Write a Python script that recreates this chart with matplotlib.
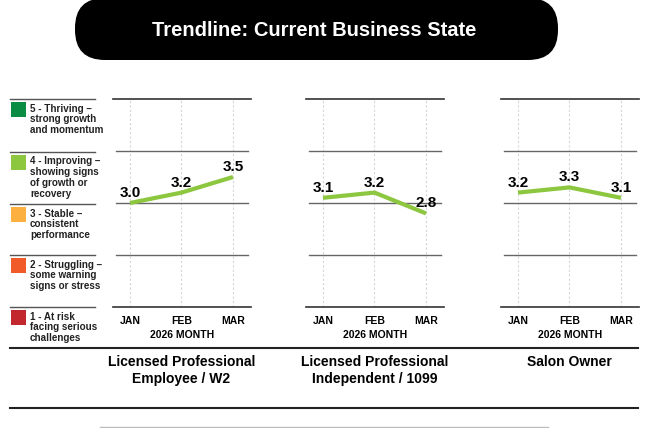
import matplotlib
matplotlib.use("Agg")
import matplotlib.pyplot as plt
from matplotlib.patches import FancyBboxPatch, Rectangle

plt.rcParams['font.family'] = ['Liberation Sans', 'DejaVu Sans']

# data
title = "Trendline: Current Business State"
months = ["JAN", "FEB", "MAR"]
x_label = "2026 MONTH"
groups = ["Licensed Professional\nEmployee / W2",
          "Licensed Professional\nIndependent / 1099",
          "Salon Owner"]
w2_vals = [3.0, 3.2, 3.5]
indep_vals = [3.1, 3.2, 2.8]
owner_vals = [3.2, 3.3, 3.1]
series = [w2_vals, indep_vals, owner_vals]

level_labels = ["5 - Thriving \u2013\nstrong growth\nand momentum",
                "4 - Improving \u2013\nshowing signs\nof growth or\nrecovery",
                "3 - Stable \u2013\nconsistent\nperformance",
                "2 - Struggling \u2013\nsome warning\nsigns or stress",
                "1 - At risk\nfacing serious\nchallenges"]
level_colors = ["#0b8c45", "#8dc63f", "#fbb040", "#f15a29", "#c1272d"]

W, H = 650, 428
fig = plt.figure(figsize=(W / 100, H / 100), dpi=100)

# background overlay in pixel coordinates
bg = fig.add_axes([0, 0, 1, 1])
bg.set_xlim(0, W)
bg.set_ylim(H, 0)
bg.axis("off")

# title pill
bg.add_patch(FancyBboxPatch((75, -2), 483, 62, boxstyle="round,pad=0,rounding_size=30",
                            fc="black", ec="none"))
bg.text(314, 30, title, color="white", fontsize=14.5, fontweight="bold",
        ha="center", va="center")

# legend bands
band_y = [99, 152, 204, 255, 307]
for y in band_y:
    bg.plot([10, 95], [y, y], color="#555555", lw=1)
for y, lab, col in zip(band_y, level_labels, level_colors):
    bg.add_patch(Rectangle((11, y + 3), 15, 15, fc=col, ec="none"))
    bg.text(30, y + 4.5, lab, fontsize=7.1, fontweight="bold", color="#222222",
            ha="left", va="top", linespacing=1.12)

# separators
bg.plot([10, 638], [348, 348], color="#222222", lw=1.5)
bg.plot([10, 638], [408, 408], color="#222222", lw=1.5)
bg.plot([100, 548], [427, 427], color="#bbbbbb", lw=1)

# panels
panel_left = [113, 306, 501]
panel_w = 138
top, bottom = 99, 307
for left, vals, grp in zip(panel_left, series, groups):
    ax = fig.add_axes([left / W, (H - bottom) / H, panel_w / W, (bottom - top) / H])
    ax.set_facecolor("none")
    x = list(range(len(months)))
    for v in [2, 3, 4]:
        ax.axhline(v, xmin=0.025, xmax=0.975, color="#666666", lw=1, zorder=1)
    for xi in x:
        ax.axvline(xi, color="#d5d5d5", lw=0.8, ls=(0, (2, 2)), zorder=0)
    ax.plot(x, vals, color="#8dc63f", lw=3, solid_capstyle="butt", zorder=3)
    for xi, v in zip(x, vals):
        ax.annotate(f"{v:.1f}", (xi, v), xytext=(0, 10), textcoords="offset pixels",
                    ha="center", va="center", fontsize=11, fontweight="bold", zorder=4)
    for s in ["left", "right"]:
        ax.spines[s].set_visible(False)
    for s in ["top", "bottom"]:
        ax.spines[s].set_color("#333333")
        ax.spines[s].set_linewidth(1.2)
    ax.set_yticks([])
    ax.set_xticks(x, months)
    ax.tick_params(axis="x", length=0, pad=6.5, labelsize=7.5)
    for t in ax.get_xticklabels():
        t.set_fontweight("bold")
    ax.set_xlabel(x_label, fontsize=7.5, fontweight="bold", labelpad=3)
    ax.text(1, -0.23, grp, ha="center", va="top", fontsize=10, fontweight="bold",
            transform=ax.get_xaxis_transform(), linespacing=1.25)
    ax.set_xlim(-0.33, 2.35)
    ax.set_ylim(1, 5)

fig.savefig("out.png", dpi=100)
